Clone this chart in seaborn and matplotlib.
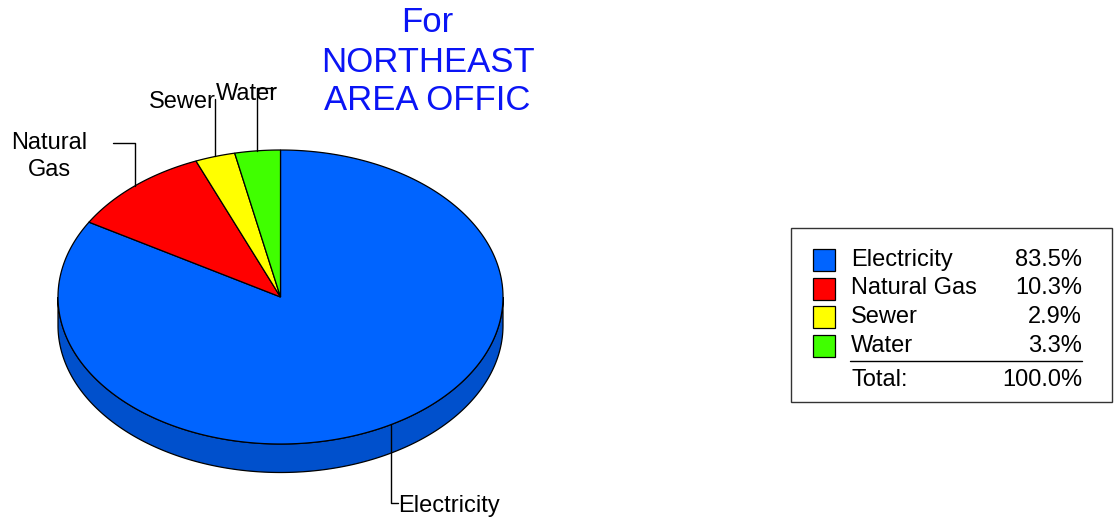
import numpy as np
import matplotlib
matplotlib.use("Agg")
import matplotlib.pyplot as plt
import seaborn as sns

# ---- data ----
categories = ["Electricity", "Natural Gas", "Sewer", "Water"]
values = [83.5, 10.3, 2.9, 3.3]
pct_labels = ["83.5%", "10.3%", "2.9%", "3.3%"]
total_label = "100.0%"
title_lines = ["For", "NORTHEAST", "AREA OFFIC"]

colors = ["#0064ff", "#ff0000", "#ffff00", "#40ff00"]
side_color = "#0050cc"

sns.set_theme(style="white")
plt.rcParams["font.family"] = ["Liberation Sans", "DejaVu Sans"]
plt.rcParams["text.color"] = "black"

W, H = 1117, 521
fig = plt.figure(figsize=(W / 100, H / 100), dpi=100)
ax = fig.add_axes([0, 0, 1, 1])
ax.set_xlim(0, W)
ax.set_ylim(H, 0)
ax.axis("off")

cx, cy, a, b, depth = 280.5, 297.0, 222.5, 147.0, 28.5


def pt(t_deg, dy=0.0):
    t = np.radians(t_deg)
    return cx + a * np.cos(t), cy - b * np.sin(t) + dy


# side (visible lower half)
t_side = np.linspace(180, 360, 200)
top_x, top_y = pt(t_side)
bot_x, bot_y = pt(t_side[::-1], depth)
ax.fill(np.r_[top_x, bot_x], np.r_[top_y, bot_y], color=side_color,
        ec="black", lw=0.9, zorder=1)

# top slices (clockwise from 90 deg)
total = sum(values)
start = 90.0
mids = []
for v, c in zip(values, colors):
    sweep = 360.0 * v / total
    t = np.linspace(start, start - sweep, max(int(sweep * 2), 4))
    xs, ys = pt(t)
    ax.fill(np.r_[cx, xs, cx], np.r_[cy, ys, cy], color=c, ec="black",
            lw=0.9, zorder=2, joinstyle="miter")
    mids.append(start - sweep / 2)
    start -= sweep

fs = 17
lk = dict(color="black", lw=1.0, zorder=3)

# Electricity label (leader drops through side)
mx, my = pt(mids[0])
ax.plot([mx, mx, mx + 7], [my, 503, 503], **lk)
ax.text(mx + 7, 506, categories[0], fontsize=fs, ha="left", va="center")

# Natural Gas label
mx, my = pt(mids[1])
ax.plot([mx, mx, 113], [my, 143, 143], **lk)
ax.text(49, 143, "Natural", fontsize=fs, ha="center", va="center")
ax.text(49, 170, "Gas", fontsize=fs, ha="center", va="center")

# Sewer label
mx, my = pt(mids[2])
ax.plot([mx, mx], [my, 99], **lk)
ax.text(mx + 1, 102, categories[2], fontsize=fs, ha="right", va="center")

# Water label
mx, my = pt(mids[3])
ax.plot([mx, mx, mx + 18], [my, 88, 88], **lk)
ax.text(247, 94, categories[3], fontsize=fs, ha="center", va="center")

# Title
for i, line in enumerate(title_lines):
    ax.text(427.5, 23 + 39 * i, line, fontsize=25, color="#0a14f5",
            ha="center", va="center")

# Legend box
ax.add_patch(plt.Rectangle((791, 228), 321, 174, fill=False, ec="#333333",
                           lw=1.0, zorder=3))
row_y = [260, 288.5, 317, 345.5]
for yy, c, name, p in zip(row_y, colors, categories, pct_labels):
    ax.add_patch(plt.Rectangle((813, yy - 11), 22, 22, fc=c, ec="black",
                               lw=0.9, zorder=4))
    ax.text(851, yy, name, fontsize=fs, ha="left", va="center")
    ax.text(1082, yy, p, fontsize=fs, ha="right", va="center")
ax.plot([850, 1082], [361, 361], color="black", lw=1.0)
ax.text(851, 380, "Total:", fontsize=fs, ha="left", va="center")
ax.text(1082, 380, total_label, fontsize=fs, ha="right", va="center")

fig.savefig("out.png", dpi=100, facecolor="white")
